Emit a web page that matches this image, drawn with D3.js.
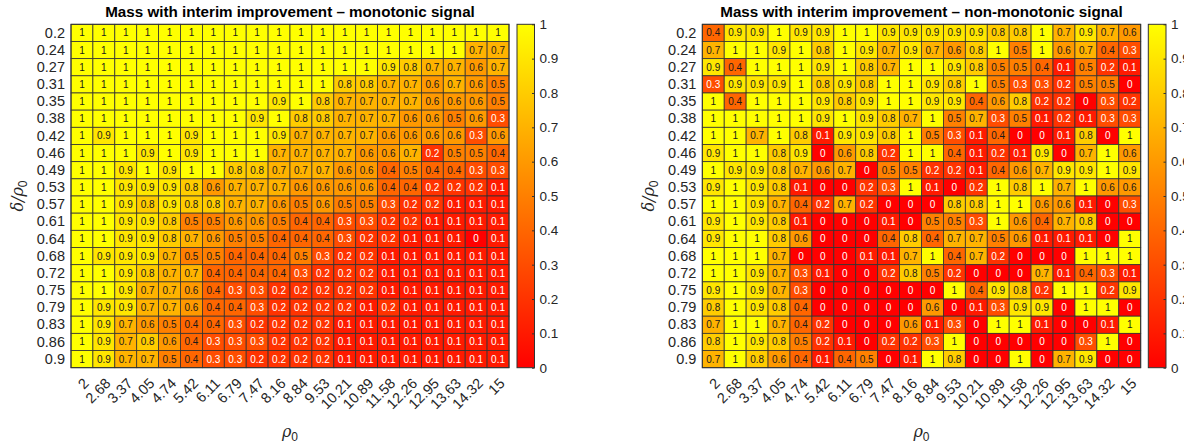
<!DOCTYPE html>
<html>
<head>
<meta charset="utf-8">
<script src="https://cdn.jsdelivr.net/npm/d3@7"></script>
<style>
  html, body { margin: 0; padding: 0; background: #fff; }
  svg { display: block; font-family: "Liberation Sans", Arial, Helvetica, sans-serif; }
</style>
</head>
<body>
<svg id="chart" width="1184" height="443"></svg>
<script>
// ---- data ----
const rowLabels = ["0.2","0.24","0.27","0.31","0.35","0.38","0.42","0.46","0.49","0.53","0.57","0.61","0.64","0.68","0.72","0.75","0.79","0.83","0.86","0.9"];
const colLabels = ["2","2.68","3.37","4.05","4.74","5.42","6.11","6.79","7.47","8.16","8.84","9.53","10.21","10.89","11.58","12.26","12.95","13.63","14.32","15"];
const colorbarTicks = [0, 0.1, 0.2, 0.3, 0.4, 0.5, 0.6, 0.7, 0.8, 0.9, 1];

const monotonic = [
  [1,1,1,1,1,1,1,1,1,1, 1,1,1,1,1,1,1,1,1,1],
  [1,1,1,1,1,1,1,1,1,1, 1,1,1,1,1,1,1,1,0.7,0.7],
  [1,1,1,1,1,1,1,1,1,1, 1,1,1,1,0.9,0.8,0.7,0.7,0.6,0.7],
  [1,1,1,1,1,1,1,1,1,1, 1,1,0.8,0.8,0.7,0.7,0.6,0.7,0.6,0.5],
  [1,1,1,1,1,1,1,1,1,0.9, 1,0.8,0.7,0.7,0.7,0.7,0.6,0.6,0.6,0.5],
  [1,1,1,1,1,1,1,1,0.9,1, 0.8,0.8,0.7,0.7,0.7,0.6,0.6,0.5,0.6,0.3],
  [1,0.9,1,1,1,0.9,1,1,1,0.9, 0.7,0.7,0.7,0.7,0.6,0.6,0.6,0.6,0.3,0.6],
  [1,1,1,0.9,1,0.9,1,1,1,0.7, 0.7,0.7,0.7,0.6,0.6,0.7,0.2,0.5,0.5,0.4],
  [1,1,0.9,1,0.9,1,1,0.8,0.8,0.7, 0.7,0.7,0.6,0.6,0.4,0.5,0.4,0.4,0.3,0.3],
  [1,1,0.9,0.9,0.9,0.8,0.6,0.7,0.7,0.7, 0.6,0.6,0.6,0.6,0.4,0.4,0.2,0.2,0.2,0.1],
  [1,1,0.9,0.8,0.9,0.8,0.8,0.7,0.7,0.6, 0.5,0.6,0.5,0.5,0.3,0.2,0.2,0.1,0.1,0.1],
  [1,1,0.9,0.9,0.8,0.5,0.5,0.6,0.6,0.5, 0.4,0.4,0.3,0.3,0.2,0.2,0.1,0.1,0.1,0.1],
  [1,1,0.9,0.9,0.8,0.7,0.6,0.5,0.5,0.4, 0.4,0.4,0.3,0.2,0.2,0.1,0.1,0.1,0,0.1],
  [1,0.9,0.9,0.9,0.7,0.5,0.5,0.4,0.4,0.4, 0.5,0.3,0.2,0.2,0.1,0.1,0.1,0.1,0.1,0.1],
  [1,1,0.9,0.8,0.7,0.7,0.4,0.4,0.4,0.4, 0.3,0.2,0.2,0.2,0.1,0.1,0.1,0.1,0.1,0.1],
  [1,1,0.9,0.7,0.7,0.6,0.4,0.3,0.3,0.2, 0.2,0.2,0.2,0.2,0.1,0.1,0.1,0.1,0.1,0.1],
  [1,0.9,0.9,0.7,0.7,0.6,0.4,0.4,0.3,0.2, 0.2,0.2,0.2,0.1,0.2,0.1,0.1,0.1,0.1,0.1],
  [1,0.9,0.7,0.6,0.5,0.4,0.4,0.3,0.2,0.2, 0.2,0.2,0.1,0.1,0.1,0.1,0.1,0.1,0.1,0.1],
  [1,0.9,0.7,0.8,0.6,0.4,0.3,0.3,0.3,0.2, 0.2,0.2,0.1,0.1,0.1,0.1,0.1,0.1,0.1,0.1],
  [1,0.9,0.7,0.7,0.5,0.4,0.3,0.3,0.2,0.2, 0.2,0.2,0.1,0.1,0.1,0.1,0.1,0.1,0.1,0.1]
];

const nonMonotonic = [
  [0.4,0.9,0.9,1,0.9,0.9,1,1,0.9,0.9, 0.9,0.9,0.9,0.8,0.8,1,0.7,0.9,0.7,0.6],
  [0.7,1,1,0.9,1,0.8,1,0.9,0.7,0.9, 0.7,0.6,0.8,1,0.5,1,0.6,0.7,0.4,0.3],
  [0.9,0.4,1,1,1,0.9,1,0.8,0.7,1, 1,0.9,0.8,0.5,0.5,0.4,0.1,0.5,0.2,0.1],
  [0.3,0.9,0.9,0.9,1,0.8,0.9,0.8,1,1, 0.9,0.8,1,0.5,0.3,0.3,0.2,0.5,0.5,0],
  [1,0.4,1,1,1,0.9,0.8,0.9,1,1, 0.9,0.9,0.4,0.6,0.8,0.2,0.2,0,0.3,0.2],
  [1,1,1,1,1,0.9,1,0.9,0.8,0.7, 1,0.5,0.7,0.3,0.5,0.1,0.2,0.1,0.3,0.3],
  [1,1,0.7,1,0.8,0.1,0.9,0.9,0.8,1, 0.5,0.3,0.1,0.4,0,0,0.1,0.8,0,1],
  [0.9,1,1,0.8,0.9,0,0.6,0.8,0.2,1, 1,0.4,0.1,0.2,0.1,0.9,0,0.7,1,0.6],
  [1,0.9,0.9,0.8,0.7,0.6,0.7,0,0.5,0.5, 0.2,0.2,0.1,0.4,0.6,0.7,0.9,0.9,1,0.9],
  [0.9,1,0.9,0.8,0.1,0,0,0.2,0.3,1, 0.1,0,0.2,1,0.8,1,0.7,1,0.6,0.6],
  [1,1,0.9,0.7,0.4,0.2,0.7,0.2,0,0, 0,0.8,0.8,1,1,0.6,0.6,0.1,0,0.3],
  [0.9,1,0.9,0.8,0.1,0,0,0,0.1,0, 0.5,0.5,0.3,1,0.6,0.4,0.7,0.8,0,0],
  [0.9,1,1,0.8,0.6,0,0,0,0.4,0.8, 0.4,0.7,0.7,0.5,0.6,0.1,0.1,0.1,0,1],
  [1,1,1,0.7,0,0,0,0.1,0.1,0.7, 1,0.4,0.7,0.2,0,0,0,1,1,1],
  [1,1,0.9,0.7,0.3,0.1,0,0,0.2,0.8, 0.5,0.2,0,0,0,0.7,0.1,0.4,0.3,0.1],
  [0.9,1,0.9,0.7,0.3,0,0,0,0,0, 0,1,0.4,0.9,0.8,0.2,1,1,0.2,0.9],
  [0.8,1,0.9,0.8,0.4,0,0,0,0,0, 0.6,0,0.1,0.3,0.9,0.9,0,1,1,0],
  [0.7,1,1,0.7,0.4,0.2,0,0,0,0.6, 0.1,0.3,0,1,1,0.1,0,0,0.1,1],
  [0.8,1,0.9,0.8,0.5,0.2,0.1,0,0.2,0.2, 0.3,1,0,0,0,0,0,0.3,1,0],
  [0.7,1,0.8,0.6,0.4,0.1,0.4,0.5,0,0.1, 1,0.8,0,0,1,0,0.7,0.9,0,0]
];

const titles = [
  "Mass with interim improvement \u2013 monotonic signal",
  "Mass with interim improvement \u2013 non-monotonic signal"
];

// ---- drawing ----
const svg = d3.select("#chart");
const color = d3.scaleLinear().domain([0, 1]).range(["#ff0000", "#ffff00"]);
const textCol = "#262626";
const gridCol = "#333333";

const plotTop = 24.3, plotBottom = 367.7;
const panels = [
  { left: 71, right: 509, cbLeft: 517, cbRight: 534.5, data: monotonic, title: titles[0] },
  { left: 702.3, right: 1140.7, cbLeft: 1148.3, cbRight: 1166, data: nonMonotonic, title: titles[1] }
];

const defs = svg.append("defs");
const grad = defs.append("linearGradient").attr("id", "cbgrad")
  .attr("x1", 0).attr("y1", 1).attr("x2", 0).attr("y2", 0);
grad.append("stop").attr("offset", "0%").attr("stop-color", color(0));
grad.append("stop").attr("offset", "100%").attr("stop-color", color(1));

panels.forEach(p => {
  const x = d3.scaleBand().domain(colLabels).range([p.left, p.right]).padding(0);
  const y = d3.scaleBand().domain(rowLabels).range([plotTop, plotBottom]).padding(0);
  const g = svg.append("g");

  const cells = [];
  p.data.forEach((row, i) => row.forEach((v, j) => cells.push({ r: rowLabels[i], c: colLabels[j], v })));

  g.selectAll("rect.cell").data(cells).join("rect")
    .attr("class", "cell")
    .attr("x", d => x(d.c)).attr("y", d => y(d.r))
    .attr("width", x.bandwidth()).attr("height", y.bandwidth())
    .attr("fill", d => color(d.v))
    .attr("stroke", gridCol).attr("stroke-width", 0.8);

  g.selectAll("text.cl").data(cells).join("text")
    .attr("class", "cl")
    .attr("x", d => x(d.c) + x.bandwidth() / 2)
    .attr("y", d => y(d.r) + y.bandwidth() / 2)
    .attr("text-anchor", "middle")
    .attr("dominant-baseline", "central")
    .attr("font-size", 10)
    .attr("fill", d => d.v < 0.35 ? "#ffffff" : "#1a1a1a")
    .text(d => String(d.v));

  // outer border
  g.append("rect").attr("x", p.left).attr("y", plotTop)
    .attr("width", p.right - p.left).attr("height", plotBottom - plotTop)
    .attr("fill", "none").attr("stroke", gridCol).attr("stroke-width", 1);

  // y axis
  const ya = g.append("g").attr("transform", `translate(${p.left},0)`)
    .call(d3.axisLeft(y).tickSize(0).tickPadding(6));
  ya.select(".domain").remove();
  ya.selectAll("text").attr("font-size", 14.5).attr("fill", textCol)
    .attr("font-family", "'Liberation Sans', Arial, sans-serif");

  // x axis
  const xa = g.append("g").attr("transform", `translate(0,${plotBottom})`)
    .call(d3.axisBottom(x).tickSize(0));
  xa.select(".domain").remove();
  xa.selectAll("text")
    .attr("font-size", 14.5).attr("fill", textCol)
    .attr("font-family", "'Liberation Sans', Arial, sans-serif")
    .attr("text-anchor", "end")
    .attr("dy", null).attr("y", 0)
    .attr("dominant-baseline", "middle")
    .attr("transform", "translate(5,14) rotate(-45)");

  // titles
  g.append("text").attr("x", (p.left + p.right) / 2).attr("y", 17)
    .attr("text-anchor", "middle").attr("font-weight", "bold")
    .attr("font-size", 15.2).attr("fill", "#000").text(p.title);

  // x label rho_0
  const xl = g.append("text").attr("x", (p.left + p.right) / 2).attr("y", 437)
    .attr("text-anchor", "middle").attr("font-size", 16).attr("fill", textCol)
    .attr("font-family", "'DejaVu Serif', 'Liberation Serif', serif");
  xl.append("tspan").attr("font-style", "italic").text("\u03c1");
  xl.append("tspan").attr("font-size", 12).attr("dy", 4)
    .attr("font-family", "'Liberation Sans', Arial, sans-serif").text("0");

  // y label delta/rho_0
  const yl = g.append("text")
    .attr("transform", `translate(${p.left - 48},${(plotTop + plotBottom) / 2}) rotate(-90)`)
    .attr("text-anchor", "middle").attr("font-size", 16).attr("fill", textCol)
    .attr("font-family", "'DejaVu Serif', 'Liberation Serif', serif");
  yl.append("tspan").attr("font-style", "italic").text("\u03b4/\u03c1");
  yl.append("tspan").attr("font-size", 12).attr("dy", 4)
    .attr("font-family", "'Liberation Sans', Arial, sans-serif").text("0");

  // colorbar
  const cb = d3.scaleLinear().domain([0, 1]).range([plotBottom, plotTop]);
  g.append("rect").attr("x", p.cbLeft).attr("y", plotTop)
    .attr("width", p.cbRight - p.cbLeft).attr("height", plotBottom - plotTop)
    .attr("fill", "url(#cbgrad)").attr("stroke", gridCol).attr("stroke-width", 1);
  const ca = g.append("g").attr("transform", `translate(${p.cbRight},0)`)
    .call(d3.axisRight(cb).tickValues(colorbarTicks).tickSize(-2.5).tickPadding(5)
      .tickFormat(d => String(d)));
  ca.select(".domain").remove();
  ca.selectAll("line").attr("stroke", gridCol);
  ca.selectAll("text").attr("font-size", 13.5).attr("fill", textCol)
    .attr("font-family", "'Liberation Sans', Arial, sans-serif");
});
</script>
</body>
</html>
